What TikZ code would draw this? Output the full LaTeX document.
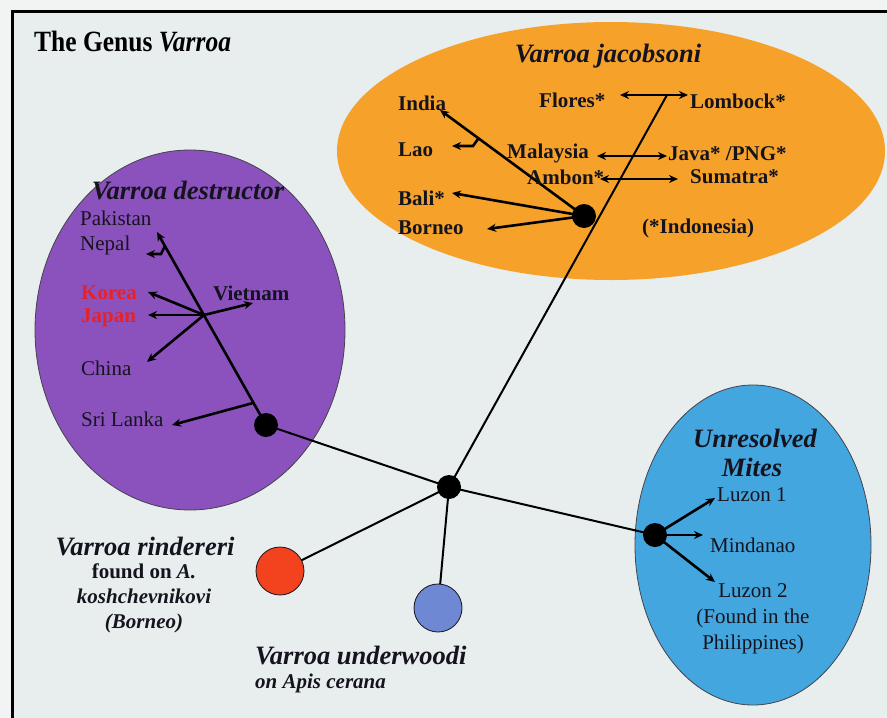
\documentclass[tikz,border=0pt]{standalone}
\usepackage{fontspec}
\setmainfont{Liberation Serif}
\usetikzlibrary{arrows.meta}
\pgfdeclarelayer{ellbg}
\pgfdeclarelayer{lines}
\pgfsetlayers{ellbg,lines,main}
\definecolor{bgin}{HTML}{E8EDEE}
\definecolor{bgout}{HTML}{F2F3F3}
\definecolor{orng}{HTML}{F6A22A}
\definecolor{purp}{HTML}{8B52BE}
\definecolor{sky}{HTML}{44A6DF}
\definecolor{redc}{HTML}{F2431E}
\definecolor{bluec}{HTML}{6E88D4}
\definecolor{redtxt}{HTML}{E5222A}
\definecolor{ink}{HTML}{15141E}
\begin{document}
\begin{tikzpicture}[x=1pt,y=-1pt,
  lbl/.style={font=\fontsize{21}{25}\selectfont, inner sep=0pt, anchor=west, text=ink},
  blbl/.style={font=\fontsize{21}{25}\selectfont\bfseries, inner sep=0pt, anchor=west, text=ink},
  head/.style={font=\fontsize{26.5}{29}\selectfont\bfseries\itshape, inner sep=0pt, text=ink},
  dot/.style={circle, fill=black, minimum size=24pt, inner sep=0pt},
  bigdot/.style={circle, draw=ink, line width=0.8pt, minimum size=48pt, inner sep=0pt},
  branch/.style={line width=2.6pt, black, -{Stealth[length=9pt,width=8pt]}},
  dbranch/.style={line width=2.6pt, black, {Stealth[length=9pt,width=8pt]}-{Stealth[length=9pt,width=8pt]}},
  trunk/.style={line width=2pt, black},
]
\useasboundingbox (0,0) rectangle (887,718);
\begin{pgfonlayer}{ellbg}
\fill[bgout] (0,0) rectangle (887,718);
\fill[bgin] (12,11) rectangle (887,718);
\draw[line width=3pt, black] (12,718) -- (12,11) -- (887,11);
\begin{scope}
\clip (12,11) rectangle (887,718);
\fill[orng] (611,151) ellipse [x radius=274, y radius=129];
\end{scope}
\filldraw[fill=purp, draw=ink!80, line width=0.8pt] (190,330) ellipse [x radius=155, y radius=180];
\filldraw[fill=sky, draw=ink!80, line width=0.8pt] (753,545) ellipse [x radius=118, y radius=160];
\end{pgfonlayer}

% title
\node[anchor=west, inner sep=0pt, font=\fontsize{28}{30}\selectfont\bfseries, text=black] (title) at (34,42) {\scalebox{0.91}[1.05]{The Genus \textit{Varroa}}};

% nodes of the tree
\node[dot] (jnode) at (584,216) {};
\node[dot] (dnode) at (266,425) {};
\node[dot] (cnode) at (449,487) {};
\node[dot] (unode) at (655,535) {};
\node[bigdot, fill=redc] (rcirc) at (280,571) {};
\node[bigdot, fill=bluec] (bcirc) at (438,608) {};

% Varroa jacobsoni
\node[head] (hjac) at (608,56) {Varroa jacobsoni};
\node[blbl] (india) at (398,103) {India};
\node[blbl] (flores) at (539,100) {Flores*};
\node[blbl] (lombock) at (690,101) {Lombock*};
\node[blbl] (lao) at (398,150) {Lao};
\node[blbl] (malaysia) at (507,153) {Malaysia};
\node[blbl] (java) at (668,154) {Java* /PNG*};
\node[blbl] (ambon) at (527,177) {Ambon*};
\node[blbl] (sumatra) at (690,177) {Sumatra*};
\node[blbl] (bali) at (398,198) {Bali*};
\node[blbl] (borneo) at (398,228) {Borneo};
\node[blbl] (indo) at (642,228) {(*Indonesia)};

\coordinate (jtop) at (667,95);
\coordinate (flt) at (620,95);
\coordinate (lbt) at (688,95);
\coordinate (mlt) at (597,156);
\coordinate (jvt) at (667,156);
\coordinate (amt) at (600,179);
\coordinate (sut) at (678,179);
\coordinate (indt) at (440,110);
\coordinate (laoa) at (478,139);
\coordinate (laob) at (473,146);
\coordinate (laot) at (452,146);
\coordinate (balt) at (452,193);
\coordinate (bort) at (487,229);

% Varroa destructor
\node[head] (hdes) at (188,191) {Varroa destructor};
\node[lbl] (pakistan) at (80,218) {Pakistan};
\node[lbl] (nepal) at (80,245) {Nepal};
\node[blbl, text=redtxt] (korea) at (81,293) {Korea};
\node[blbl, text=redtxt] (japan) at (81,318) {Japan};
\node[blbl] (vietnam) at (213,293) {Vietnam};
\node[lbl] (china) at (81,368) {China};
\node[lbl] (srilanka) at (81,419) {Sri Lanka};

\coordinate (dtop) at (157,232);
\coordinate (nepa) at (165,246);
\coordinate (nepb) at (161,254);
\coordinate (nept) at (146,254);
\coordinate (hub) at (204,315);
\coordinate (kort) at (148,292);
\coordinate (japt) at (148,315);
\coordinate (chit) at (147,362);
\coordinate (viet) at (253,303);
\coordinate (sria) at (253,403);
\coordinate (srit) at (172,425);

% Unresolved
\node[head] (hunr) at (755,438) {Unresolved};
\node[head] (hmit) at (752,467) {Mites};
\node[lbl] (luzon1) at (717,495) {Luzon 1};
\node[lbl] (mindanao) at (710,545) {Mindanao};
\node[lbl, anchor=center, align=center, font=\fontsize{21}{26}\selectfont] (luzon2) at (753,619) {Luzon 2\\(Found in the\\Philippines)};
\coordinate (lz1t) at (715,498);
\coordinate (mint) at (703,535);
\coordinate (lz2t) at (715,582);

% rindereri and underwoodi
\node[head] (hrin) at (145,546) {Varroa rindereri};
\node[anchor=center, inner sep=0pt, align=center, text=ink, font=\fontsize{21}{25}\selectfont\bfseries] (rintxt) at (144,598) {found on \textit{A.}\\\textit{koshchevnikovi}\\\textit{(Borneo)}};
\node[head, anchor=west] (hund) at (255,655) {Varroa underwoodi};
\node[anchor=west, inner sep=0pt, text=ink, font=\fontsize{21}{25}\selectfont\bfseries\itshape] (undtxt) at (255,683) {on Apis cerana};

\begin{pgfonlayer}{lines}
% backbone
\draw[trunk] (cnode.center) -- (jtop);
\draw[trunk] (dnode.center) -- (cnode.center);
\draw[trunk] (cnode.center) -- (rcirc.center);
\draw[trunk] (cnode.center) -- (bcirc.center);
\draw[trunk] (cnode.center) -- (unode.center);
% jacobsoni branches
\draw[dbranch] (flt) -- (lbt);
\draw[dbranch] (mlt) -- (jvt);
\draw[dbranch] (amt) -- (sut);
\draw[branch] (jnode.center) -- (indt);
\draw[branch] (laoa) -- (laob) -- (laot);
\draw[branch] (jnode.center) -- (balt);
\draw[branch] (jnode.center) -- (bort);
% destructor branches
\draw[branch] (dnode.center) -- (dtop);
\draw[branch] (nepa) -- (nepb) -- (nept);
\draw[branch] (hub) -- (kort);
\draw[branch] (hub) -- (japt);
\draw[branch] (hub) -- (chit);
\draw[branch] (hub) -- (viet);
\draw[branch] (sria) -- (srit);
% unresolved branches
\draw[branch] (unode.center) -- (lz1t);
\draw[branch] (unode.center) -- (mint);
\draw[branch] (unode.center) -- (lz2t);
\end{pgfonlayer}
\end{tikzpicture}
\end{document}
